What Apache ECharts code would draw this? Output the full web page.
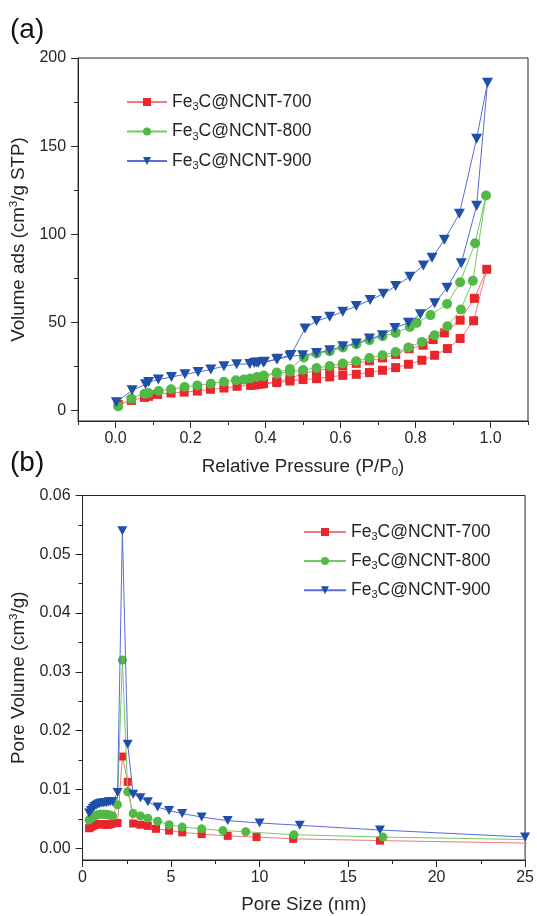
<!DOCTYPE html>
<html>
<head>
<meta charset="utf-8">
<script src="https://cdn.jsdelivr.net/npm/echarts@6/dist/echarts.min.js"></script>
<style>
  html, body { margin: 0; padding: 0; background: #ffffff; }
  #chart { width: 537px; height: 916px; }
</style>
</head>
<body>
<div id="chart"></div>
<script>
// Sample names (shared by both panels)
const sampleNames = ['Fe3C@NCNT-700', 'Fe3C@NCNT-800', 'Fe3C@NCNT-900'];

// (a) N2 isotherms: adsorption branch followed by desorption branch
const isoP700 = [0.007, 0.042, 0.077, 0.088, 0.112, 0.148, 0.183, 0.218, 0.253, 0.289, 0.324, 0.36, 0.37, 0.38, 0.39, 0.43, 0.465, 0.5, 0.536, 0.571, 0.606, 0.642, 0.677, 0.712, 0.747, 0.781, 0.817, 0.851, 0.885, 0.919, 0.955, 0.99,
                 0.957, 0.919, 0.877, 0.847, 0.82, 0.783, 0.747, 0.712, 0.677, 0.642, 0.606, 0.571, 0.536, 0.5, 0.465, 0.43, 0.395];
const isoV700 = [3.5, 5.7, 7.4, 8.0, 9.1, 9.9, 10.4, 11.0, 12.0, 12.7, 13.7, 14.2, 14.4, 14.8, 15.0, 15.8, 16.7, 17.5, 18.0, 19.0, 19.9, 20.5, 21.5, 22.8, 24.3, 26.2, 28.5, 31.3, 35.1, 40.8, 50.9, 80.1,
                 63.6, 51.2, 44.0, 40.2, 37.0, 35.0, 31.8, 29.8, 28.2, 26.7, 25.2, 23.8, 22.5, 21.2, 18.0, 16.5, 15.3];

const isoP800 = [0.007, 0.042, 0.077, 0.088, 0.115, 0.148, 0.184, 0.218, 0.254, 0.289, 0.321, 0.342, 0.359, 0.377, 0.395, 0.43, 0.465, 0.5, 0.536, 0.571, 0.606, 0.642, 0.677, 0.712, 0.747, 0.781, 0.817, 0.851, 0.885, 0.921, 0.953, 0.988,
                 0.959, 0.919, 0.884, 0.84, 0.803, 0.785, 0.747, 0.712, 0.677, 0.642, 0.606, 0.571, 0.536, 0.502, 0.465, 0.43, 0.395];
const isoV800 = [2.3, 6.7, 9.5, 9.9, 11.0, 12.0, 13.3, 14.2, 15.2, 16.3, 17.1, 17.5, 18.1, 19.0, 19.4, 20.9, 22.0, 22.9, 24.1, 25.2, 26.6, 27.9, 29.8, 31.3, 33.2, 35.7, 38.9, 42.7, 47.8, 57.3, 73.6, 122.0,
                 94.9, 72.7, 60.4, 54.1, 49.7, 47.4, 44.0, 42.1, 39.9, 37.6, 35.7, 33.6, 32.3, 30.0, 23.5, 21.5, 19.8];

const isoP900 = [0.002, 0.044, 0.08, 0.088, 0.114, 0.149, 0.185, 0.22, 0.254, 0.289, 0.323, 0.358, 0.37, 0.381, 0.394, 0.43, 0.465, 0.499, 0.536, 0.571, 0.606, 0.642, 0.677, 0.712, 0.745, 0.781, 0.813, 0.851, 0.884, 0.922, 0.963, 0.992,
                 0.963, 0.917, 0.877, 0.844, 0.821, 0.785, 0.747, 0.714, 0.679, 0.642, 0.606, 0.571, 0.536, 0.505, 0.468, 0.432, 0.397, 0.376];
const isoV900 = [4.7, 11.4, 14.8, 16.1, 17.5, 19.0, 20.5, 21.8, 23.2, 25.1, 26.2, 26.4, 26.9, 27.0, 27.2, 28.9, 30.8, 31.3, 32.6, 34.2, 36.4, 38.0, 40.8, 42.7, 46.8, 49.8, 54.6, 60.8, 69.6, 83.5, 116.2, 186.0,
                 154.2, 111.6, 96.8, 86.6, 82.3, 75.9, 70.6, 66.2, 62.6, 59.2, 56.0, 53.1, 50.7, 46.5, 31.5, 29.3, 27.6, 27.2];

// (b) BJH pore size distribution
const poreD700 = [0.37, 0.47, 0.57, 0.67, 0.77, 0.87, 0.97, 1.07, 1.17, 1.27, 1.37, 1.47, 1.57, 1.7, 1.98, 2.25, 2.55, 2.86, 3.27, 3.69, 4.15, 4.89, 5.63, 6.73, 8.2, 9.83, 11.9, 16.8, 26.5];
const poreV700 = [0.0034, 0.0036, 0.0038, 0.0039, 0.0040, 0.0041, 0.0041, 0.0041, 0.0041, 0.0040, 0.0040, 0.0040, 0.0041, 0.0042, 0.0043, 0.0156, 0.0113, 0.0042, 0.0040, 0.0038, 0.0033, 0.0030, 0.0027, 0.0024, 0.0021, 0.0019, 0.0016, 0.0013, 0.0008];

const poreD800 = [0.37, 0.47, 0.57, 0.67, 0.77, 0.87, 0.97, 1.07, 1.17, 1.27, 1.37, 1.47, 1.57, 1.7, 1.97, 2.25, 2.55, 2.86, 3.27, 3.69, 4.24, 4.89, 5.63, 6.73, 7.93, 9.22, 11.94, 16.97, 26.5];
const poreV800 = [0.0048, 0.0051, 0.0053, 0.0055, 0.0056, 0.0057, 0.0058, 0.0058, 0.0058, 0.0058, 0.0057, 0.0057, 0.0056, 0.0055, 0.0074, 0.0320, 0.0096, 0.0059, 0.0055, 0.0051, 0.0046, 0.0040, 0.0036, 0.0033, 0.0030, 0.0028, 0.0023, 0.0019, 0.0014];

const poreD900 = [0.37, 0.47, 0.57, 0.67, 0.77, 0.87, 0.97, 1.07, 1.17, 1.27, 1.37, 1.47, 1.57, 1.7, 1.98, 2.25, 2.55, 2.86, 3.27, 3.69, 4.24, 4.89, 5.63, 6.73, 8.2, 10.0, 12.27, 16.8, 25.0];
const poreV900 = [0.0060, 0.0064, 0.0068, 0.0071, 0.0073, 0.0075, 0.0076, 0.0077, 0.0077, 0.0078, 0.0078, 0.0079, 0.0079, 0.0079, 0.0095, 0.0540, 0.0177, 0.0092, 0.0086, 0.0079, 0.0070, 0.0064, 0.0059, 0.0053, 0.0047, 0.0043, 0.0039, 0.0031, 0.0019];

// Axis tick positions
const ticksPMajor = [0, 0.2, 0.4, 0.6, 0.8, 1.0];
const ticksPMinor = [-0.1, 0.1, 0.3, 0.5, 0.7, 0.9, 1.1];
const ticksVMajor = [0, 50, 100, 150, 200];
const ticksVMinor = [25, 75, 125, 175];
const ticksDMajor = [0, 5, 10, 15, 20, 25];
const ticksDMinor = [2.5, 7.5, 12.5, 17.5, 22.5];
const ticksPVMajor = [0, 0.01, 0.02, 0.03, 0.04, 0.05, 0.06];
const ticksPVMinor = [0.005, 0.015, 0.025, 0.035, 0.045, 0.055];

const FONT = '"Liberation Sans", Arial, sans-serif';
const INK = '#262626';

const markerColors = ['#e8262c', '#52b846', '#1f4fa6'];
const lineColors = ['#f27a7c', '#74c965', '#5a6cd6'];
const symbols = ['rect', 'circle', 'path://M0,0L10,0L5,9Z'];
const symbolSizesTop = [9, 10, [11, 10]];
const symbolSizesBottom = [8, 9, [10, 9]];

const zip = (xs, ys) => xs.map((x, i) => [x, ys[i]]);

const richName = {
  a: { fontSize: 18.8, fontFamily: FONT, color: INK, lineHeight: 22 },
  s: { fontSize: 11.5, fontFamily: FONT, color: INK, lineHeight: 11, verticalAlign: 'bottom' },
  p: { fontSize: 11.5, fontFamily: FONT, color: INK, lineHeight: 11, verticalAlign: 'top' }
};
const richLegend = {
  a: { fontSize: 17.5, fontFamily: FONT, color: INK, lineHeight: 21 },
  s: { fontSize: 11, fontFamily: FONT, color: INK, lineHeight: 11, verticalAlign: 'bottom' }
};
const legendFormatter = name => '{a|Fe}{s|3}{a|C' + name.slice(4) + '}';

function majorAxis(gridIndex, min, max, ticks, fmt, extra) {
  return Object.assign({
    type: 'value', gridIndex, min, max,
    axisLine: { show: true, onZero: false, lineStyle: { color: INK, width: 1 } },
    axisTick: { show: true, customValues: ticks, length: 7, lineStyle: { color: INK } },
    axisLabel: { show: true, customValues: ticks, formatter: fmt, fontSize: 16, fontFamily: FONT, color: INK },
    splitLine: { show: false }
  }, extra);
}
function minorAxis(gridIndex, min, max, ticks, position) {
  return {
    type: 'value', gridIndex, min, max, position,
    axisLine: { show: false, onZero: false },
    axisTick: { show: true, customValues: ticks, length: 4, lineStyle: { color: INK } },
    axisLabel: { show: false },
    splitLine: { show: false }
  };
}

const isoData = [zip(isoP700, isoV700), zip(isoP800, isoV800), zip(isoP900, isoV900)];
const poreData = [zip(poreD700, poreV700), zip(poreD800, poreV800), zip(poreD900, poreV900)];

const series = [];
sampleNames.forEach((name, i) => {
  series.push({
    name, type: 'line', xAxisIndex: 0, yAxisIndex: 0, data: isoData[i],
    symbol: symbols[i], symbolSize: symbolSizesTop[i], showAllSymbol: true,
    itemStyle: { color: markerColors[i] },
    lineStyle: { color: lineColors[i], width: 1 },
    z: 2 + i, clip: true
  });
});
sampleNames.forEach((name, i) => {
  series.push({
    name, type: 'line', xAxisIndex: 2, yAxisIndex: 2, data: poreData[i],
    symbol: symbols[i], symbolSize: symbolSizesBottom[i], showAllSymbol: true,
    itemStyle: { color: markerColors[i] },
    lineStyle: { color: lineColors[i], width: 1 },
    z: 2 + i, clip: true
  });
});

const legendBase = {
  data: sampleNames, orient: 'vertical', padding: 0, itemHeight: 10, selectedMode: false,
  formatter: legendFormatter,
  textStyle: { rich: richLegend, fontSize: 17.5, color: INK, fontFamily: FONT }
};

const option = {
  animation: false,
  backgroundColor: '#ffffff',
  textStyle: { fontFamily: FONT },
  title: [
    { text: '(a)', left: 10, top: 16, padding: 0, textStyle: { fontSize: 28, fontWeight: 'normal', color: '#111', fontFamily: FONT } },
    { text: '(b)', left: 10, top: 449, padding: 0, textStyle: { fontSize: 28, fontWeight: 'normal', color: '#111', fontFamily: FONT } }
  ],
  grid: [
    { left: 75, right: 9, top: 58, bottom: 495, show: true, borderColor: INK, borderWidth: 1, backgroundColor: 'transparent' },
    { left: 75, right: 10, top: 495.5, bottom: 56, show: true, borderColor: INK, borderWidth: 1, backgroundColor: 'transparent' }
  ],
  legend: [
    Object.assign({ left: 126, top: 93, itemWidth: 40, itemGap: 10 }, legendBase),
    Object.assign({ left: 303, top: 523, itemWidth: 42, itemGap: 9.6 }, legendBase)
  ],
  xAxis: [
    majorAxis(0, -0.1, 1.1, ticksPMajor, v => v.toFixed(1), {
      position: 'bottom',
      name: '{a|Relative Pressure (P/P}{s|0}{a|)}', nameLocation: 'middle', nameGap: 35,
      nameTextStyle: { rich: richName }
    }),
    minorAxis(0, -0.1, 1.1, ticksPMinor, 'bottom'),
    majorAxis(1, 0, 25, ticksDMajor, v => String(Math.round(v)), {
      position: 'bottom',
      name: '{a|Pore Size (nm)}', nameLocation: 'middle', nameGap: 34,
      nameTextStyle: { rich: richName }
    }),
    minorAxis(1, 0, 25, ticksDMinor, 'bottom')
  ],
  yAxis: [
    majorAxis(0, -6, 200, ticksVMajor, v => String(Math.round(v)), {
      position: 'left',
      name: '{a|Volume ads (cm}{p|3}{a|/g STP)}', nameLocation: 'middle', nameGap: 39,
      nameTextStyle: { rich: richName }
    }),
    minorAxis(0, -6, 200, ticksVMinor, 'left'),
    majorAxis(1, -0.002, 0.06, ticksPVMajor, v => v.toFixed(2), {
      position: 'left',
      name: '{a|Pore Volume (cm}{p|3}{a|/g)}', nameLocation: 'middle', nameGap: 41,
      nameTextStyle: { rich: richName }
    }),
    minorAxis(1, -0.002, 0.06, ticksPVMinor, 'left')
  ],
  series
};

// label offsets from the axis lines
option.xAxis[0].axisLabel.margin = 10;
option.xAxis[2].axisLabel.margin = 10;
option.yAxis[0].axisLabel.margin = 12;
option.yAxis[2].axisLabel.margin = 12;

const chart = echarts.init(document.getElementById('chart'), null, { renderer: 'canvas' });
chart.setOption(option);
</script>
</body>
</html>
